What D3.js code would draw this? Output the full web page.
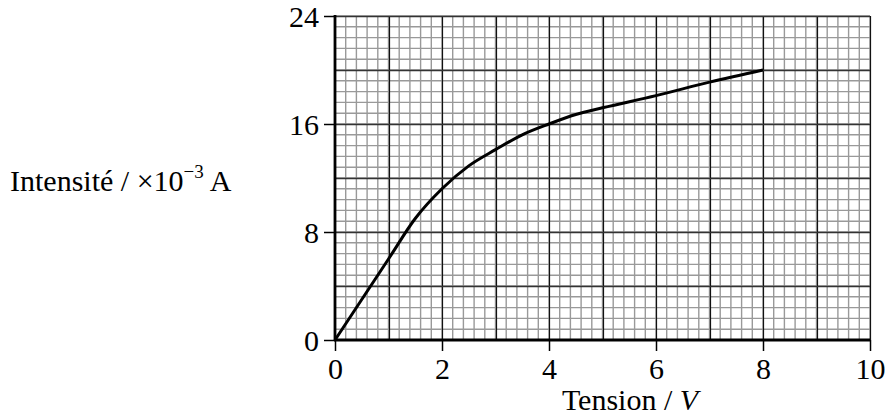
<!DOCTYPE html>
<html>
<head>
<meta charset="utf-8">
<script src="https://cdn.jsdelivr.net/npm/d3@7"></script>
<style>
  html, body { margin: 0; padding: 0; background: #fff; }
  svg { display: block; }
  text { font-family: "Liberation Serif", "Times New Roman", serif; fill: #000; }
</style>
</head>
<body>
<svg id="chart" width="887" height="419"></svg>
<script>
// Current–voltage characteristic
const tension = [0, 0.5, 1, 1.5, 2, 2.5, 3, 3.5, 4, 4.5, 5, 6, 7, 8];
const intensite = [0, 3, 6, 9.0, 11.2, 12.9, 14.1, 15.2, 16, 16.7, 17.2, 18.1, 19.1, 20];
const xTicks = [0, 2, 4, 6, 8, 10];
const yTicks = [0, 8, 16, 24];

const svg = d3.select("#chart");
const plotLeft = 335, plotRight = 870, plotTop = 16, plotBottom = 340;

const x = d3.scaleLinear().domain([0, 10]).range([plotLeft, plotRight]);
const y = d3.scaleLinear().domain([0, 24]).range([plotBottom, plotTop]);

const grid = svg.append("g");

// fine grid: 0.2 V vertically, 0.8 mA horizontally
const minorX = d3.range(0, 10.0001, 0.2);
const minorY = d3.range(0, 24.0001, 0.8);
grid.selectAll("line.mx").data(minorX).join("line")
  .attr("x1", d => x(d)).attr("x2", d => x(d))
  .attr("y1", y(0)).attr("y2", y(24))
  .attr("stroke", "#999").attr("stroke-width", 1.4);
grid.selectAll("line.my").data(minorY).join("line")
  .attr("y1", d => y(d)).attr("y2", d => y(d))
  .attr("x1", x(0)).attr("x2", x(10))
  .attr("stroke", "#999").attr("stroke-width", 1.4);

// major grid: every 1 V and every 4 mA
grid.selectAll("line.Mx").data(d3.range(1, 10.5, 1)).join("line")
  .attr("x1", d => Math.round(x(d)) + 0.5).attr("x2", d => Math.round(x(d)) + 0.5)
  .attr("y1", y(0)).attr("y2", y(24))
  .attr("stroke", "#111").attr("stroke-width", 1.2);
grid.selectAll("line.My").data(d3.range(4, 24.5, 4)).join("line")
  .attr("y1", d => Math.round(y(d)) + 0.5).attr("y2", d => Math.round(y(d)) + 0.5)
  .attr("x1", x(0)).attr("x2", x(10))
  .attr("stroke", "#333").attr("stroke-width", 1.4);

// axes
const xAxis = d3.axisBottom(x).tickValues(xTicks).tickSize(11).tickPadding(6).tickFormat(d3.format("d"));
const yAxis = d3.axisLeft(y).tickValues(yTicks).tickSize(11).tickPadding(5).tickFormat(d3.format("d"));

const gx = svg.append("g").attr("transform", `translate(0,${plotBottom})`).call(xAxis);
const gy = svg.append("g").attr("transform", `translate(${plotLeft},0)`).call(yAxis);

[gx, gy].forEach(g => {
  g.attr("font-family", null);
  g.select(".domain").remove();
  g.selectAll(".tick line").attr("stroke", "#000").attr("stroke-width", 1.5);
  g.selectAll(".tick text").style("font-family", '"Liberation Serif", "Times New Roman", serif')
    .style("font-size", "30px").attr("fill", "#000");
});
gy.selectAll(".tick text").attr("dy", "0.34em");
gx.selectAll(".tick text").attr("dy", "0.72em");

// thick axis lines
svg.append("line").attr("x1", plotLeft).attr("x2", plotLeft).attr("y1", plotTop - 1).attr("y2", plotBottom + 1)
  .attr("stroke", "#000").attr("stroke-width", 2.8);
svg.append("line").attr("x1", plotLeft - 1).attr("x2", plotRight).attr("y1", plotBottom).attr("y2", plotBottom)
  .attr("stroke", "#000").attr("stroke-width", 2.8);

// curve
const line = d3.line().x((d, i) => x(tension[i])).y(d => y(d)).curve(d3.curveMonotoneX);
svg.append("path").datum(intensite).attr("d", line)
  .attr("fill", "none").attr("stroke", "#000").attr("stroke-width", 3);

// axis titles
const yt = svg.append("text").attr("x", 10).attr("y", 191).style("font-size", "30px");
yt.append("tspan").text("Intensité / ×10");
yt.append("tspan").attr("dy", -13).style("font-size", "19px").text("−3");
yt.append("tspan").attr("dy", 13).text(" A");

const xt = svg.append("text").attr("x", 630).attr("y", 410).attr("text-anchor", "middle").style("font-size", "30px");
xt.append("tspan").text("Tension / ");
xt.append("tspan").style("font-style", "italic").text("V");
</script>
</body>
</html>
